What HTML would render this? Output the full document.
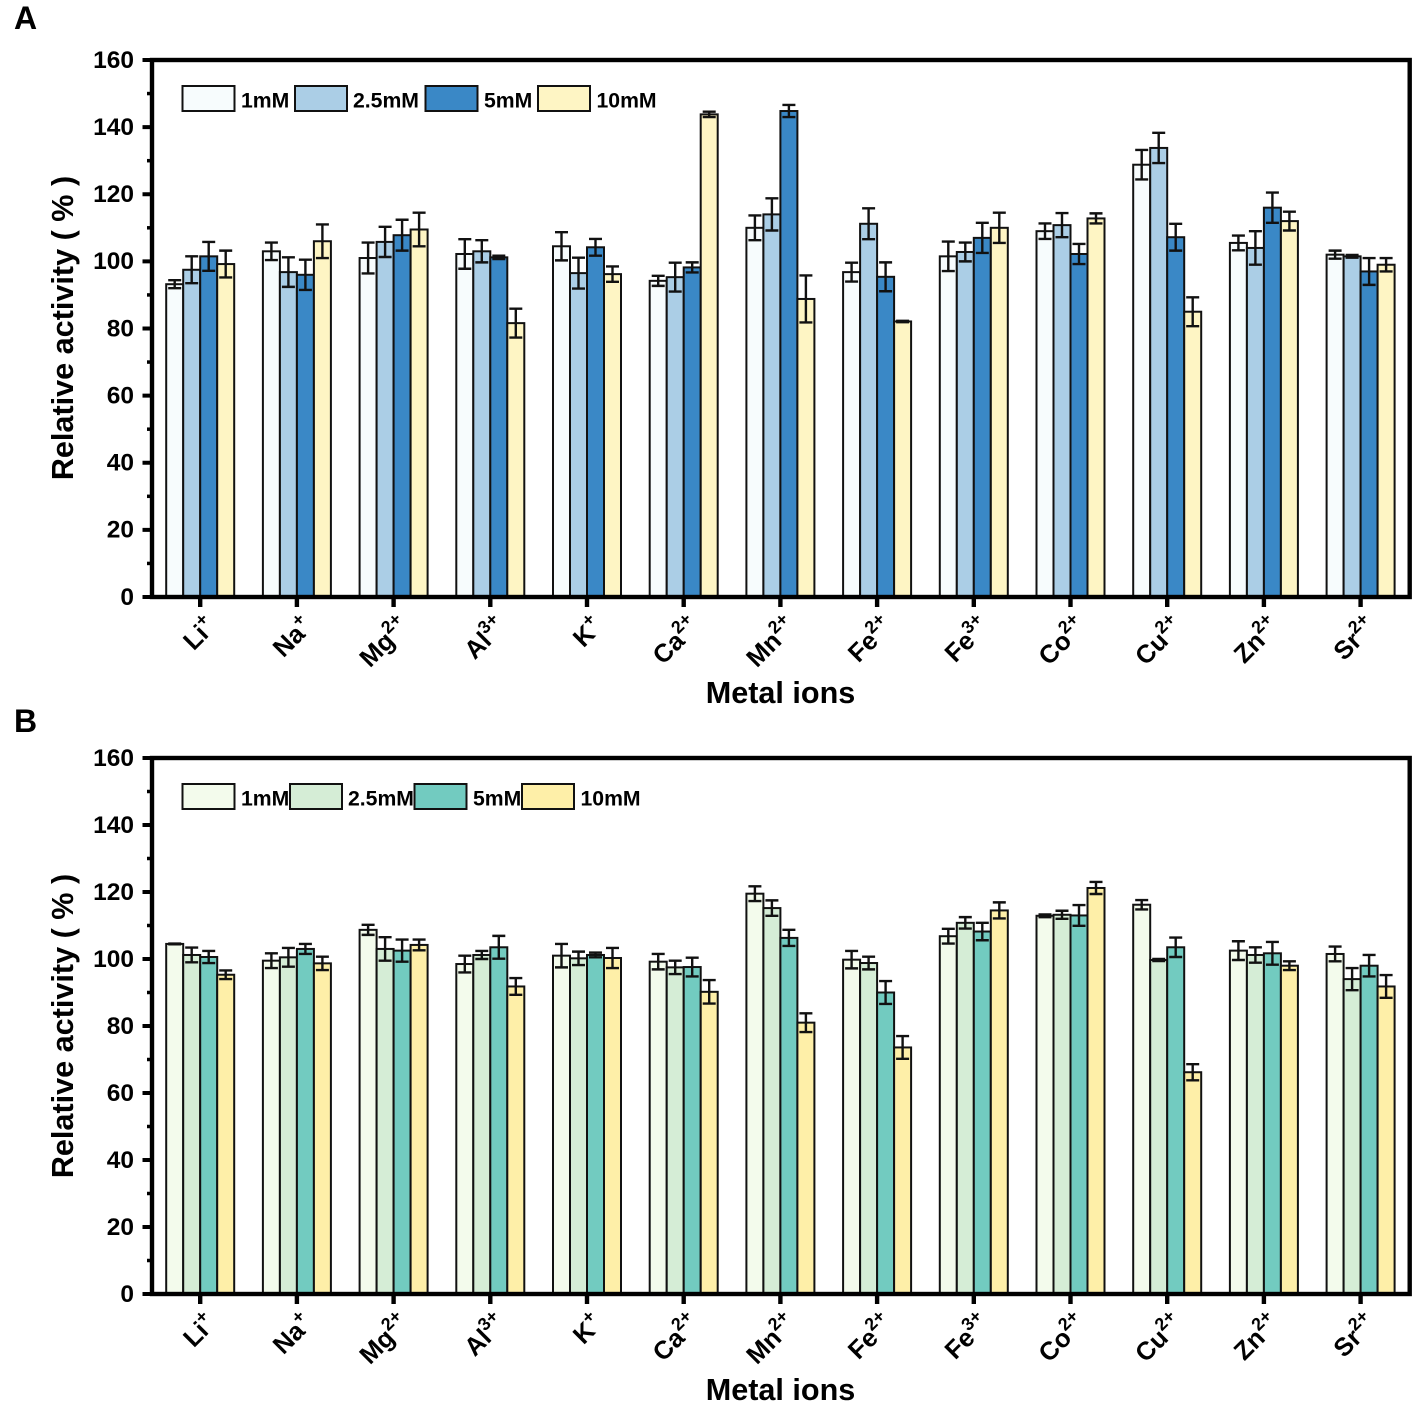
<!DOCTYPE html>
<html lang="en">
<head>
<meta charset="utf-8">
<title>Relative activity by metal ion</title>
<style>
html,body{margin:0;padding:0;background:#fff;width:1418px;height:1416px;overflow:hidden}
svg{display:block}
text{font-family:"Liberation Sans",Arial,sans-serif;font-weight:bold;fill:#000}
</style>
</head>
<body>
<svg id="fig" xmlns="http://www.w3.org/2000/svg" width="1418" height="1416" viewBox="0 0 1418 1416"></svg>
<script>
const ions = ['Li','Na','Mg','Al','K','Ca','Mn','Fe','Fe','Co','Cu','Zn','Sr'];
const charges = ['+','+','2+','3+','+','2+','2+','2+','3+','2+','2+','2+','2+'];
const seriesNames = ['1mM','2.5mM','5mM','10mM'];
const yTickValues = [0,20,40,60,80,100,120,140,160];
const yMinorValues = [10,30,50,70,90,110,130,150];

const a1mM = [93.2,103,101,102.2,104.5,94.2,110,96.8,101.5,109,128.8,105.5,102];
const a2_5mM = [97.5,96.8,105.8,103,96.5,95.3,114,111.2,102.8,110.8,133.8,104,101.5];
const a5mM = [101.5,96,107.8,101.2,104.2,98.2,144.8,95.4,107,102.2,107.2,116,97];
const a10mM = [99.2,106,109.5,81.6,96.2,143.8,88.8,82.1,110,112.8,85,112,99];
const a1mMErr = [1.2,2.6,4.6,4.4,4.2,1.5,3.7,2.8,4.4,2.3,4.4,2.2,1.2];
const a2_5mMErr = [4,4.4,4.5,3.3,4.6,4.3,4.8,4.6,2.8,3.6,4.5,5,0.4];
const a5mMErr = [4.3,4.5,4.6,0.5,2.5,1.5,1.8,4.3,4.5,3,4,4.5,4];
const a10mMErr = [4,5,5,4.3,2.3,0.8,7,0.2,4.5,1.5,4.3,2.8,2];

const b1mM = [104.5,99.5,108.7,98.5,101,99.2,119.5,99.8,106.8,112.9,116.2,102.5,101.5];
const b2_5mM = [101.2,100.5,103,101.2,100.2,97.5,115.2,98.8,110.8,113.2,99.7,101.2,94];
const b5mM = [100.6,103,102.5,103.5,101.2,97.6,106.3,90,108.2,113,103.5,101.7,98];
const b10mM = [95.3,98.7,104.2,91.8,100.3,90.2,81,73.6,114.5,121.2,66.2,98,91.8];
const b1mMErr = [0.1,2.2,1.5,2.5,3.5,2.3,2.2,2.6,2.2,0.4,1.4,2.8,2.2];
const b2_5mMErr = [2.2,2.8,3.5,1.2,2,2,2.3,1.9,1.7,1.2,0.3,2.3,3.3];
const b5mMErr = [1.8,1.5,3.3,3.4,0.7,2.8,2.4,3.4,2.6,3.1,2.9,3.4,3.2];
const b10mMErr = [1.3,2,1.6,2.5,3,3.5,2.8,3.4,2.4,1.8,2.4,1.3,3.4];

const svg = document.getElementById('fig');
const NS = 'http://www.w3.org/2000/svg';
function mk(parent, tag, props){
  const el = document.createElementNS(NS, tag);
  for (const k in props) el.setAttribute(k, props[k]);
  parent.appendChild(el);
  return el;
}

function drawPanel(cfg){
  const g = mk(svg,'g',{});
  
  
  const left = 152, right = 1409.7, top = cfg.top, bottom = cfg.bottom;
  const y = v => bottom - (v / 160) * (bottom - top);
  const groupX = i => 200.2 + i * 96.7;
  const barW = 17;
  const barX = (i, s) => groupX(i) + (s - 2) * barW;

  const letter = mk(g,'text',{x:14, y:cfg.letterY, 'font-size':32});
  letter.textContent = cfg.letter;
  
  

  cfg.values.forEach((vals, s) => {
    vals.forEach((v, i) => {
      const bar = mk(g,'rect',{x:barX(i,s), y:y(v), width:barW, height:bottom - y(v), fill:cfg.colors[s], stroke:'#111', 'stroke-width':2});
      
      
    });
  });
  cfg.values.forEach((vals, s) => {
    vals.forEach((v, i) => {
      const e = cfg.errors[s][i];
      const cx = barX(i,s) + barW / 2;
      const eb = mk(g,'path',{
        d:'M'+cx+' '+y(v+e)+'V'+y(v-e)+'M'+(cx-6.5)+' '+y(v+e)+'H'+(cx+6.5)+'M'+(cx-6.5)+' '+y(v-e)+'H'+(cx+6.5),
        fill:'none', stroke:'#111', 'stroke-width':2.4});
      
      
    });
  });

  const frame = mk(g,'rect',{x:left, y:top, width:right-left, height:bottom-top, fill:'none', stroke:'#000', 'stroke-width':4.4});
  
  

  yTickValues.forEach(v => {
    const t = mk(g,'line',{x1:142.5, x2:left, y1:y(v), y2:y(v), stroke:'#000', 'stroke-width':4});
    
    
    const lab = mk(g,'text',{x:134, y:y(v)+7.8, 'font-size':24.5, 'text-anchor':'end'});
    lab.textContent = String(v);
    
    
  });
  yMinorValues.forEach(v => {
    const t = mk(g,'line',{x1:147, x2:left, y1:y(v), y2:y(v), stroke:'#000', 'stroke-width':3.5});
    
    
  });

  ions.forEach((ion, i) => {
    const gx = groupX(i);
    const t = mk(g,'line',{x1:gx, x2:gx, y1:bottom, y2:bottom+10, stroke:'#000', 'stroke-width':4.4});
    
    
    const lab = mk(g,'text',{'font-size':25.5, 'text-anchor':'end', transform:'translate('+(gx+17)+' '+(bottom+31)+') rotate(-45)'});
    
    
    const base = mk(lab,'tspan',{});
    base.textContent = ion;
    const sup = mk(lab,'tspan',{dy:-11, 'font-size':18});
    sup.textContent = charges[i];
  });

  const xt = mk(g,'text',{x:780.5, y:bottom+106, 'font-size':30.6, 'text-anchor':'middle'});
  xt.textContent = 'Metal ions';
  
  

  const yt = mk(g,'text',{'font-size':30.6, 'text-anchor':'middle', transform:'translate(73 '+(top+268)+') rotate(-90)'});
  yt.textContent = 'Relative activity ( % )';
  
  

  seriesNames.forEach((name, s) => {
    const sw = mk(g,'rect',{x:cfg.legendX[s], y:top+26, width:52, height:25, fill:cfg.colors[s], stroke:'#111', 'stroke-width':2});
    
    
    const lt = mk(g,'text',{x:cfg.legendText[s], y:top+47.5, 'font-size':21.2});
    lt.textContent = name;
    
    
  });
}

drawPanel({id:'panel-a', letter:'A', letterY:29, top:60, bottom:597,
  colors:['#F7FCFD','#ABCEE6','#3A88C6','#FEF5C4'],
  values:[a1mM,a2_5mM,a5mM,a10mM],
  errors:[a1mMErr,a2_5mMErr,a5mMErr,a10mMErr],
  legendX:[182.5,295,425.5,538], legendText:[241,353,484,596.5]});
drawPanel({id:'panel-b', letter:'B', letterY:732, top:758, bottom:1294,
  colors:['#F3FBEC','#D5EDD6','#72CBC0','#FEEFA8'],
  values:[b1mM,b2_5mM,b5mM,b10mM],
  errors:[b1mMErr,b2_5mMErr,b5mMErr,b10mMErr],
  legendX:[182.5,290,414.5,522], legendText:[241,348,473,580.5]});
</script>
</body>
</html>
